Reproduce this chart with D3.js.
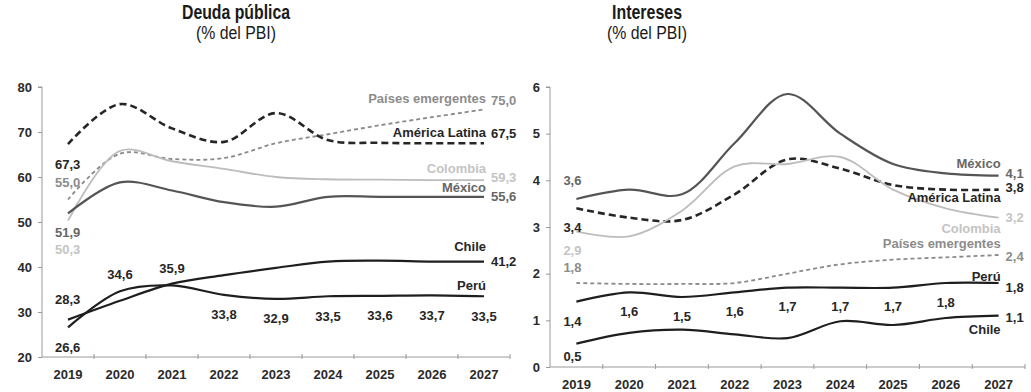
<!DOCTYPE html>
<html>
<head>
<meta charset="utf-8">
<script src="https://cdn.jsdelivr.net/npm/d3@7"></script>
<style>
  html, body { margin: 0; padding: 0; background: #fff; }
  svg { display: block; }
  .title { font-family: "Liberation Sans", Arial, sans-serif; fill: #1a1a1a; }
  .lbl { font-family: "Liberation Sans", Arial, sans-serif; font-size: 13px; font-weight: bold; }
  .axis text { font-family: "Liberation Sans", Arial, sans-serif; font-size: 13px; font-weight: bold; fill: #2a2a2a; }
</style>
</head>
<body>
<svg id="chart" width="1031" height="392"></svg>
<script>
// Categories
const years = ["2019", "2020", "2021", "2022", "2023", "2024", "2025", "2026", "2027"];

// Deuda pública (% del PBI)
const deudaPaisesEmergentes = [55.0, 65.2, 64.0, 64.2, 67.5, 69.5, 71.5, 73.3, 75.0];
const deudaAmericaLatina   = [67.3, 76.2, 70.8, 67.8, 74.2, 68.2, 67.6, 67.5, 67.5];
const deudaColombia        = [50.3, 65.8, 63.5, 61.8, 60.0, 59.5, 59.4, 59.3, 59.3];
const deudaMexico          = [51.9, 58.8, 57.0, 54.4, 53.4, 55.6, 55.6, 55.6, 55.6];
const deudaChile           = [28.3, 32.5, 36.3, 38.2, 39.8, 41.2, 41.4, 41.2, 41.2];
const deudaPeru            = [26.6, 34.6, 35.9, 33.8, 32.9, 33.5, 33.6, 33.7, 33.5];
const deudaTicks = [20, 30, 40, 50, 60, 70, 80];

// Intereses (% del PBI)
const intMexico            = [3.6, 3.8, 3.7, 4.8, 5.85, 5.0, 4.35, 4.15, 4.1];
const intAmericaLatina     = [3.4, 3.2, 3.15, 3.7, 4.45, 4.25, 3.9, 3.8, 3.8];
const intColombia          = [2.9, 2.8, 3.35, 4.3, 4.35, 4.5, 3.8, 3.4, 3.2];
const intPaisesEmergentes  = [1.8, 1.78, 1.78, 1.8, 2.0, 2.2, 2.3, 2.35, 2.4];
const intPeru              = [1.4, 1.6, 1.5, 1.6, 1.7, 1.7, 1.7, 1.8, 1.8];
const intChile             = [0.5, 0.73, 0.8, 0.7, 0.62, 0.98, 0.9, 1.05, 1.1];
const intTicks = [0, 1, 2, 3, 4, 5, 6];

const fmt = v => d3.format(".1f")(v).replace(".", ",");

// Line styles
const styles = {
  emergentes: { stroke: "#8a8a8a", width: 1.8, dash: "4,3", text: "#8c8c8c" },
  latina:     { stroke: "#262626", width: 2.6, dash: "7,4", text: "#262626" },
  colombia:   { stroke: "#bdbdbd", width: 1.8, dash: null,  text: "#c4c4c4" },
  mexico:     { stroke: "#555555", width: 2.2, dash: null,  text: "#666666" },
  chile:      { stroke: "#1e1e1e", width: 2.2, dash: null,  text: "#262626" },
  peru:       { stroke: "#1e1e1e", width: 2.2, dash: null,  text: "#262626" }
};

const svg = d3.select("#chart");

function panel(cfg) {
  const x = d3.scaleBand().domain(years).range(cfg.xRange).padding(0);
  const xc = d => x(d) + x.bandwidth() / 2;
  const y = d3.scaleLinear().domain(cfg.yDomain).range(cfg.yRange);
  const g = svg.append("g");

  // Titles (condensed by fitting to a width)
  g.append("text").attr("class", "title").attr("x", cfg.titleX).attr("y", 19)
    .attr("text-anchor", "middle").style("font-size", "21px").style("font-weight", "bold")
    .attr("textLength", cfg.titleWidth).attr("lengthAdjust", "spacingAndGlyphs").text(cfg.title);
  g.append("text").attr("class", "title").attr("x", cfg.titleX).attr("y", 39)
    .attr("text-anchor", "middle").style("font-size", "18px")
    .attr("textLength", 80).attr("lengthAdjust", "spacingAndGlyphs").text("(% del PBI)");

  // Y axis
  const yAxis = g.append("g").attr("class", "axis")
    .attr("transform", `translate(${cfg.xRange[0]},0)`)
    .call(d3.axisLeft(y).tickValues(cfg.ticks).tickSize(4).tickPadding(6).tickFormat(d3.format("d")));
  yAxis.selectAll("path, line").attr("stroke", "#9a9a9a");
  yAxis.select(".domain").attr("d", `M-4,${y(cfg.yDomain[1])}H0V${y(cfg.yDomain[0])}`);

  // X axis: labels at band centres, tick marks at band edges
  const xAxis = g.append("g").attr("class", "axis")
    .attr("transform", `translate(0,${y(cfg.yDomain[0])})`)
    .call(d3.axisBottom(x).tickSize(0).tickPadding(13));
  xAxis.select(".domain").attr("stroke", "#9a9a9a").attr("d", `M${cfg.xRange[0]},0H${cfg.xRange[1]}`);
  g.append("g").selectAll("line")
    .data(years.slice(1).map(d => x(d)).concat([cfg.xRange[1]]))
    .join("line")
    .attr("x1", d => d).attr("x2", d => d)
    .attr("y1", y(cfg.yDomain[0]) - 3).attr("y2", y(cfg.yDomain[0]) + 2)
    .attr("stroke", "#9a9a9a");

  const line = d3.line().x((d, i) => xc(years[i])).y(d => y(d)).curve(d3.curveCatmullRom.alpha(0.5));

  cfg.series.forEach(s => {
    const st = styles[s.style];
    g.append("path").attr("d", line(s.values))
      .attr("fill", "none").attr("stroke", st.stroke).attr("stroke-width", st.width)
      .attr("stroke-dasharray", st.dash).attr("stroke-linejoin", "round");
  });

  const text = (tx, ty, str, color, anchor) =>
    g.append("text").attr("class", "lbl").attr("x", tx).attr("y", ty + 4.5)
      .attr("text-anchor", anchor || "start").attr("fill", color).text(str);

  const xStart = xc(years[0]) - 13;
  const xEnd = xc(years[years.length - 1]);
  cfg.series.forEach(s => {
    const st = styles[s.style];
    const n = s.values.length - 1;
    if (s.startDy !== undefined) text(xStart, y(s.values[0]) + s.startDy, fmt(s.values[0]), st.text);
    if (s.endValue) text(xEnd + 7, y(s.values[n]) + s.endDy, fmt(s.values[n]), st.text);
    if (s.name) text(xEnd + 2, y(s.values[n]) + s.nameDy, s.name, st.text, "end");
    if (s.midDy) s.values.forEach((v, i) => {
      if (i === 0 || (i === n && s.endValue)) return;
      text(xc(years[i]), y(v) + s.midDy(i), fmt(v), st.text, "middle");
    });
  });
}

panel({
  title: "Deuda pública", titleX: 236, titleWidth: 108,
  xRange: [42, 510], yDomain: [20, 80], yRange: [357, 87], ticks: deudaTicks,
  series: [
    { values: deudaPaisesEmergentes, style: "emergentes", name: "Países emergentes", startDy: -17, endValue: true, endDy: -9, nameDy: -11 },
    { values: deudaAmericaLatina, style: "latina", name: "América Latina", startDy: 20, endValue: true, endDy: -10, nameDy: -11 },
    { values: deudaColombia, style: "colombia", name: "Colombia", startDy: 29, endValue: true, endDy: -3, nameDy: -12 },
    { values: deudaMexico, style: "mexico", name: "México", startDy: 19, endValue: true, endDy: 0, nameDy: -9 },
    { values: deudaChile, style: "chile", name: "Chile", startDy: -20, endValue: true, endDy: 0, nameDy: -15 },
    { values: deudaPeru, style: "peru", name: "Perú", startDy: 20, endValue: false, nameDy: -11,
      midDy: i => (i <= 2 ? -17 : 20) }
  ]
});

panel({
  title: "Intereses", titleX: 647, titleWidth: 70,
  xRange: [550, 1025], yDomain: [0, 6], yRange: [367, 87], ticks: intTicks,
  series: [
    { values: intMexico, style: "mexico", name: "México", startDy: -19, endValue: true, endDy: -2.5, nameDy: -12 },
    { values: intAmericaLatina, style: "latina", name: "América Latina", startDy: 19, endValue: true, endDy: -2, nameDy: 8 },
    { values: intColombia, style: "colombia", name: "Colombia", startDy: 19, endValue: true, endDy: 0, nameDy: 11 },
    { values: intPaisesEmergentes, style: "emergentes", name: "Países emergentes", startDy: -16, endValue: true, endDy: 1, nameDy: -12 },
    { values: intPeru, style: "peru", name: "Perú", startDy: 20, endValue: true, endDy: 4, nameDy: -7,
      midDy: i => 19 },
    { values: intChile, style: "chile", name: "Chile", startDy: 13, endValue: true, endDy: 2, nameDy: 14 }
  ]
});
</script>
</body>
</html>
